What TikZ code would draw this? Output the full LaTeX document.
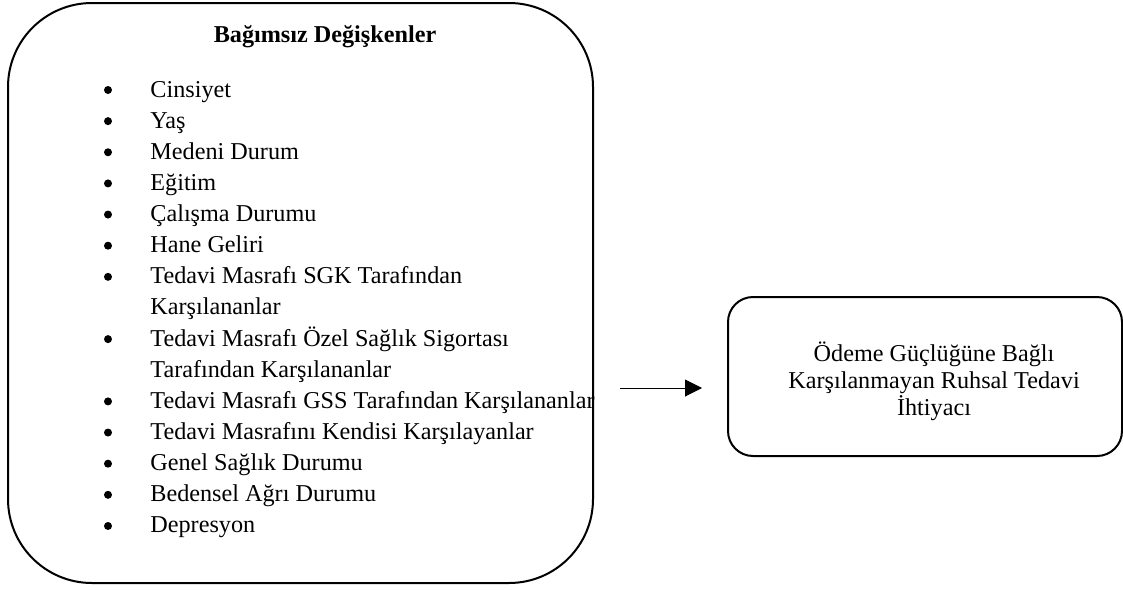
\documentclass[tikz,border=0pt]{standalone}
\usepackage{fontspec}
\setmainfont{Liberation Serif}
\usetikzlibrary{arrows.meta}

\tikzset{
  bigbox/.style={draw, line width=1pt, rounded corners=42pt, minimum width=292.5pt, minimum height=290pt, inner sep=0pt},
  smallbox/.style={draw, line width=1pt, rounded corners=12.5pt, minimum width=197pt, minimum height=79.5pt, inner sep=0pt},
  itemtext/.style={anchor=base west, inner sep=0pt, font=\fontsize{12.1}{14}\selectfont},
  bulletmark/.style={circle, fill, inner sep=0pt, minimum size=4pt},
  headtext/.style={anchor=base, inner sep=0pt, font=\fontsize{12.1}{14}\selectfont\bfseries}
}

\begin{document}
\begin{tikzpicture}[x=0.5pt, y=-0.5pt]
            \useasboundingbox (0,0) rectangle (1123,589);

            % boxes
            \node[bigbox] (indep) at (300.5,293) {};
            \node[smallbox] (outcome) at (925,376.5) {};

            \node[headtext] (title) at (325,42) {Bağımsız Değişkenler};

            % list of variables
            \foreach \n/\row/\txt in {1/0/Cinsiyet, 2/1/Yaş, 3/2/Medeni Durum, 4/3/Eğitim, 5/4/Çalışma Durumu, 6/5/Hane Geliri, 7/6/Tedavi Masrafı SGK Tarafından, 8/8/Tedavi Masrafı Özel Sağlık Sigortası, 9/10/Tedavi Masrafı GSS Tarafından Karşılananlar, 10/11/Tedavi Masrafını Kendisi Karşılayanlar, 11/12/Genel Sağlık Durumu, 12/13/Bedensel Ağrı Durumu, 13/14/Depresyon}
            {
              \node[bulletmark] (dot\n) at (108,{90+31.14*\row}) {};
              \node[itemtext] (item\n) at (150,{97+31.14*\row}) {\txt};
            }
            \node[itemtext] (item7b) at (150,{97+31.14*7}) {Karşılananlar};
            \node[itemtext] (item8b) at (150,{97+31.14*9}) {Tarafından Karşılananlar};

            \node[align=center, inner sep=0pt, font=\fontsize{12.1}{13.5}\selectfont] (outcometext) at (934,381)
              {Ödeme Güçlüğüne Bağlı\\Karşılanmayan Ruhsal Tedavi\\İhtiyacı};

            % arrow
            \coordinate (arrowstart) at (620,388);
            \coordinate (arrowend) at (702,388);
            \draw[line width=0.5pt, -{Triangle[length=8.5pt, width=8.5pt]}] (arrowstart) -- (arrowend);

        \end{tikzpicture}
\end{document}
